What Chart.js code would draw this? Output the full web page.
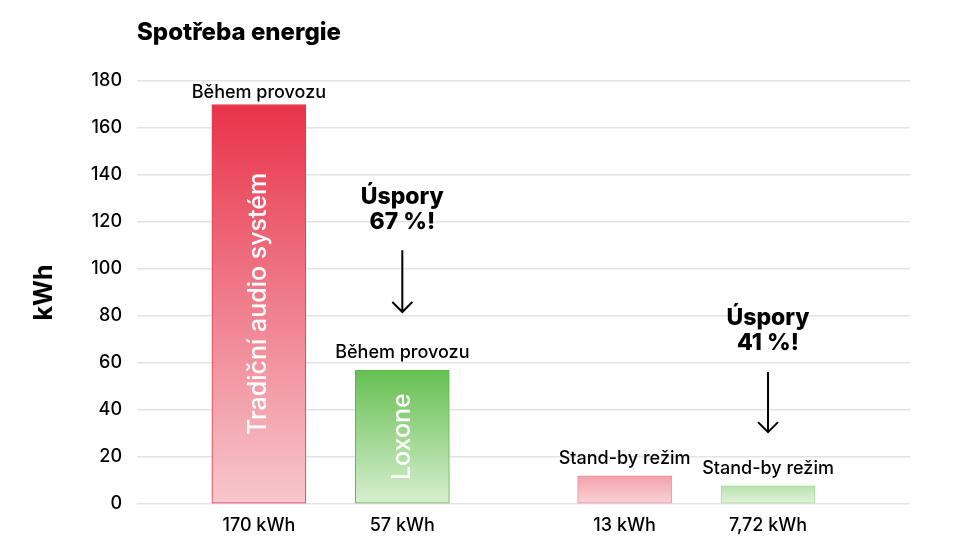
<!DOCTYPE html>
<html>
<head>
<meta charset="utf-8">
<script src="https://cdn.jsdelivr.net/npm/chart.js@4.4.1/dist/chart.umd.min.js"></script>
<style>
  html, body { margin: 0; background: #fff; }
  #wrap { width: 960px; height: 540px; }
</style>
</head>
<body>
<div id="wrap"><canvas id="energyChart"></canvas></div>
<script>
const FONT = 'Inter, "Open Sans", sans-serif';

// data
const xLabels = ['170 kWh', '57 kWh', '13 kWh', '7,72 kWh'];
const xPositions = [0.85, 1.85, 3.4, 4.4];
const energy = [170, 57, 12, 7.72];
const modeLabels = ['Během provozu', 'Během provozu', 'Stand-by režim', 'Stand-by režim'];
const systemNames = ['Tradiční audio systém', 'Loxone', '', ''];
const savingsText = [['Úspory', '67 %!'], ['Úspory', '41 %!']];
const savingsX = [1.85, 4.4];
const savingsTextY = [130.6, 79.1];
const savingsArrow = [[108, 81.7], [56.2, 30.6]];

// colours
const barTop = ['#e8334a', '#66c052', '#f3a1ab', '#b8e2ad'];
const barBottom = ['#f7c8ce', '#d8efd1', '#f9d4d9', '#e4f4df'];
const barBorder = ['#e8334a', '#5cb848', '#f08d99', '#a4da96'];

const overlay = {
  id: 'overlay',
  afterDatasetsDraw(chart) {
    const { ctx, chartArea, scales } = chart;
    ctx.save();

    // title
    ctx.fillStyle = '#000';
    ctx.font = `800 24px ${FONT}`;
    ctx.textAlign = 'left';
    ctx.textBaseline = 'middle';
    ctx.fillText('Spotřeba energie', chartArea.left, 33);

    const bars = chart.getDatasetMeta(0).data;
    bars.forEach((el, i) => {
      // label above bar
      ctx.fillStyle = '#000';
      ctx.font = `500 18px ${FONT}`;
      ctx.textAlign = 'center';
      ctx.textBaseline = 'middle';
      ctx.fillText(modeLabels[i], el.x, Math.max(el.y - 17, chartArea.top + 12));

      // name inside bar
      if (systemNames[i]) {
        ctx.save();
        ctx.translate(el.x, (el.y + el.base) / 2);
        ctx.rotate(-Math.PI / 2);
        ctx.fillStyle = '#fff';
        ctx.font = `500 25px ${FONT}`;
        ctx.fillText(systemNames[i], 0, 0);
        ctx.restore();
      }
    });

    // savings notes + arrows
    savingsText.forEach((lines, i) => {
      const x = scales.x.getPixelForValue(savingsX[i]);
      const y = scales.y.getPixelForValue(savingsTextY[i]);
      ctx.fillStyle = '#000';
      ctx.font = `800 23px ${FONT}`;
      ctx.textAlign = 'center';
      ctx.textBaseline = 'middle';
      lines.forEach((t, k) => ctx.fillText(t, x, y + k * 25));

      const y0 = scales.y.getPixelForValue(savingsArrow[i][0]);
      const y1 = scales.y.getPixelForValue(savingsArrow[i][1]);
      ctx.strokeStyle = '#000';
      ctx.lineWidth = 2;
      ctx.beginPath();
      ctx.moveTo(x, y0);
      ctx.lineTo(x, y1);
      ctx.moveTo(x - 10, y1 - 10);
      ctx.lineTo(x, y1);
      ctx.lineTo(x + 10, y1 - 10);
      ctx.stroke();
    });

    ctx.restore();
  }
};

new Chart(document.getElementById('energyChart'), {
  type: 'bar',
  data: {
    datasets: [{
      data: energy.map((v, i) => ({ x: xPositions[i], y: v })),
      backgroundColor: c => {
        const ch = c.chart;
        const i = c.dataIndex;
        if (!ch.chartArea || !ch.scales.y) return barTop[i];
        const g = ch.ctx.createLinearGradient(0, ch.scales.y.getPixelForValue(energy[i]), 0, ch.scales.y.getPixelForValue(0));
        g.addColorStop(0, barTop[i]);
        g.addColorStop(1, barBottom[i]);
        return g;
      },
      borderColor: barBorder,
      borderWidth: 1,
      borderSkipped: false,
      barThickness: 94,
    }],
  },
  options: {
    responsive: true,
    maintainAspectRatio: false,
    animation: false,
    layout: { padding: { left: 10, right: 50, top: 81, bottom: 0 } },
    plugins: {
      legend: { display: false },
      tooltip: { enabled: false },
    },
    scales: {
      x: {
        type: 'linear',
        offset: false,
        min: 0,
        max: 5.39,
        grid: { display: false },
        border: { display: false },
        afterBuildTicks: axis => { axis.ticks = xPositions.map(v => ({ value: v })); },
        afterFit: axis => { axis.height = 36; },
        ticks: {
          color: '#000',
          font: { family: FONT, size: 18, weight: '500' },
          padding: 3,
          autoSkip: false,
          maxRotation: 0,
          callback: (v, i) => xLabels[i],
        },
      },
      y: {
        min: 0,
        max: 180,
        afterFit: axis => { axis.width = 127; },
        grid: { color: '#e3e3e3', lineWidth: 1.5, drawTicks: false },
        border: { display: false },
        ticks: {
          stepSize: 20,
          color: '#000',
          font: { family: FONT, size: 18, weight: '500' },
          padding: 15,
        },
        title: {
          display: true,
          text: 'kWh',
          color: '#000',
          font: { family: FONT, size: 25, weight: '700' },
          padding: { top: 19, bottom: 0 },
        },
      },
    },
  },
  plugins: [overlay],
});
</script>
</body>
</html>
